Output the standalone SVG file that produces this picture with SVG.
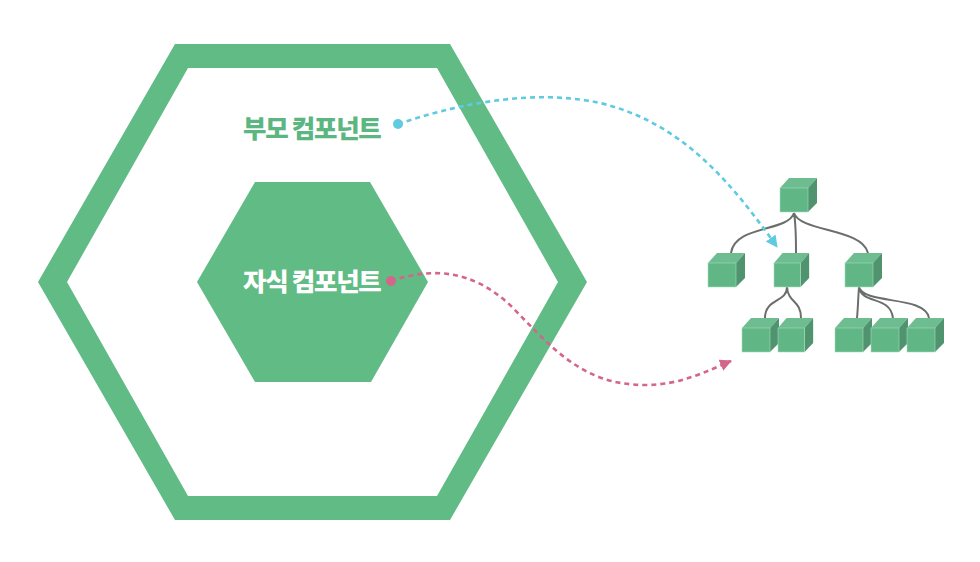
<svg xmlns="http://www.w3.org/2000/svg" width="980" height="562" viewBox="0 0 980 562">
<style>
.hex{fill:#60bb85}
.lbl{font-family:"Noto Sans CJK KR","Noto Sans",sans-serif;font-size:25.5px;font-weight:900;letter-spacing:-1.3px}
.front{fill:#60b685;stroke:#a5dcbb;stroke-width:.6}
.top{fill:#6dbd90}
.side{fill:#50936f}
.tree{fill:none;stroke:#6b6f6c;stroke-width:2}
.dash{fill:none;stroke-width:2.6;stroke-dasharray:5 4}
</style>
<defs>
<marker id="ab" markerUnits="userSpaceOnUse" markerWidth="14" markerHeight="14" refX="11" refY="6" orient="auto"><path d="M0 0L12 6L0 12Z" fill="#5fcbdf"/></marker>
<marker id="ap" markerUnits="userSpaceOnUse" markerWidth="14" markerHeight="14" refX="11" refY="6" orient="auto"><path d="M0 0L12 6L0 12Z" fill="#d4668a"/></marker>
<g id="cube"><path class="top" d="M0 10L9 0H37L28 10Z"/><path class="side" d="M28 10L37 0V25L28 34Z"/><rect class="front" x="0" y="10" width="28" height="24"/></g>
</defs>
<g id="parent-hexagon"><path class="hex" fill-rule="evenodd" d="M175 44H450L587 282L450 520H175L38 282ZM188 68L67 282L188 496H437L558 282L437 68Z"/></g>
<g id="child-hexagon"><path class="hex" d="M255 182H370L428 282L371 382H255L197 282Z"/></g>
<g id="parent-label"><text class="lbl" x="243" y="138" fill="#5cb681">부모 컴포넌트</text></g>
<g id="child-label"><text class="lbl" x="243" y="291" fill="#fff">자식 컴포넌트</text></g>
<g id="tree-links">
<path class="tree" d="M794 213C788 232 735 225 731 253M794 213C796 225 796 240 796 253M794 213C800 232 862 228 868 253M787 287C787 303 765 298 765 318M787 287C788 303 801 300 801 318M859 287C858 300 858 308 857 318M859 287C862 305 890 295 893 318M859 287C864 305 925 295 929 318"/>
</g>
<g id="node-root"><use href="#cube" transform="translate(780 178)"/></g>
<g id="node-a"><use href="#cube" transform="translate(708 253)"/></g>
<g id="node-b"><use href="#cube" transform="translate(774 253) scale(.95 1)"/></g>
<g id="node-c"><use href="#cube" transform="translate(845 253)"/></g>
<g id="node-b1"><use href="#cube" transform="translate(742 318)"/></g>
<g id="node-b2"><use href="#cube" transform="translate(778 318) scale(.95 1)"/></g>
<g id="node-c1"><use href="#cube" transform="translate(835 318)"/></g>
<g id="node-c2"><use href="#cube" transform="translate(871 318)"/></g>
<g id="node-c3"><use href="#cube" transform="translate(907 318)"/></g>
<g id="connectors">
<circle cx="398" cy="124" r="5" fill="#5fcbdf"/>
<path class="dash" stroke="#5fcbdf" marker-end="url(#ab)" d="M398 124C470 100 540 90 600 103C680 122 730 180 777 247"/>
<circle cx="391" cy="281" r="5" fill="#d4668a"/>
<path class="dash" stroke="#d4668a" marker-end="url(#ap)" d="M391 281C430 268 470 268 510 305C550 345 580 385 645 385C680 385 705 372 731 361"/>
</g>
</svg>
